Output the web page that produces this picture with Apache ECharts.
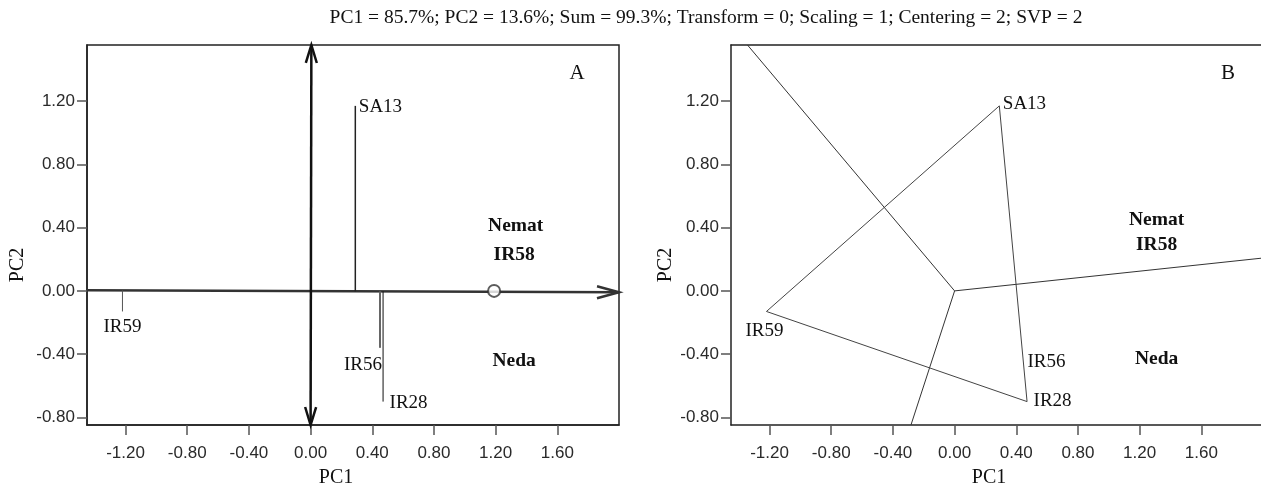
<!DOCTYPE html>
<html><head><meta charset="utf-8">
<script src="https://cdn.jsdelivr.net/npm/echarts@6/dist/echarts.min.js"></script>
<style>html,body{margin:0;padding:0;background:#fff}#c{width:1261px;height:489px}</style>
</head><body><div id="c"></div>
<script>
// ---- data ----
const xTicks = [-1.2, -0.8, -0.4, 0, 0.4, 0.8, 1.2, 1.6];
const yTicks = [-0.8, -0.4, 0, 0.4, 0.8, 1.2];
const genotypes = ['SA13', 'IR59', 'IR56', 'IR28'];
const genoPC1 = [0.29, -1.22, 0.45, 0.47];
const genoPC2 = [1.17, -0.13, -0.36, -0.70];
const envNames = ['Nemat', 'IR58', 'Neda'];
const envPC1A = [1.33, 1.32, 1.32];
const envPC2A = [0.41, 0.23, -0.44];
const envPC1B = [1.31, 1.31, 1.31];
const envPC2B = [0.45, 0.29, -0.43];
const aeaStart = [-1.45, 0.004];
const aeaEnd = [2.0, -0.009];
const ordStart = [0.0, -0.848];
const ordEnd = [0.005, 1.555];
const avgEnv = [1.19, 0.0];
const hullOrder = ['SA13', 'IR28', 'IR59', 'SA13'];
const rayEnds = [[-1.343, 1.555], [2.0, 0.208], [-0.283, -0.848]];
const titleText = 'PC1 = 85.7%; PC2 = 13.6%; Sum = 99.3%; Transform = 0; Scaling = 1; Centering = 2; SVP = 2';

// ---- styling ----
const SERIF = '"Liberation Serif", "Times New Roman", serif';
const SANS = '"Liberation Sans", Arial, sans-serif';
const TXT = '#111';
const X_MIN = -1.45, X_MAX = 2.0, X_MAX_B = 1.987, Y_MIN = -0.848, Y_MAX = 1.555;

function xAx(gi, max) {
  return {
    gridIndex: gi, type: 'value', min: X_MIN, max: max,
    axisLine: { onZero: false, lineStyle: { color: '#222', width: 1.5 } },
    axisTick: { show: true, length: 10, customValues: xTicks, lineStyle: { color: '#555', width: 1.5 } },
    axisLabel: { customValues: xTicks, formatter: v => v.toFixed(2), margin: 20, fontFamily: SANS, fontSize: 17, color: '#2a2a2a' },
    splitLine: { show: false }
  };
}
function yAx(gi) {
  return {
    gridIndex: gi, type: 'value', min: Y_MIN, max: Y_MAX,
    axisLine: { onZero: false, lineStyle: { color: '#222', width: 1.5 } },
    axisTick: { show: true, length: 10, customValues: yTicks, lineStyle: { color: '#555', width: 1.5 } },
    axisLabel: { customValues: yTicks, formatter: v => v.toFixed(2), margin: 12, fontFamily: SANS, fontSize: 17, color: '#2a2a2a' },
    splitLine: { show: false }
  };
}
// frame-only axis along the top of panel B (the panel runs past the right edge)
const topFrameB = {
  gridIndex: 1, type: 'value', position: 'top', min: X_MIN, max: X_MAX_B,
  axisLine: { onZero: false, lineStyle: { color: '#222', width: 1.5 } },
  axisTick: { show: false }, axisLabel: { show: false }, splitLine: { show: false }
};

// segments series: data items [x0,y0,x1,y1]; styles per item
function segSeries(gi, segs, styles, heads, clip) {
  return {
    type: 'custom', xAxisIndex: gi, yAxisIndex: gi, clip: clip, silent: true, z: 3,
    data: segs, encode: { x: [0, 2], y: [1, 3] },
    renderItem: function (params, api) {
      const st = styles[params.dataIndex] || styles[0];
      const a = api.coord([api.value(0), api.value(1)]);
      const b = api.coord([api.value(2), api.value(3)]);
      const children = [{ type: 'line', shape: { x1: a[0], y1: a[1], x2: b[0], y2: b[1] }, style: { stroke: st.color, lineWidth: st.width } }];
      function head(tip, from) {
        const dx = tip[0] - from[0], dy = tip[1] - from[1];
        const L = Math.hypot(dx, dy) || 1;
        const ux = dx / L, uy = dy / L, nx = -uy, ny = ux;
        const bx = tip[0] - ux * heads.len, by = tip[1] - uy * heads.len;
        children.push({ type: 'polyline', shape: { points: [[bx + nx * heads.half, by + ny * heads.half], tip, [bx - nx * heads.half, by - ny * heads.half]] }, style: { stroke: st.color, lineWidth: st.width, fill: null } });
      }
      if (heads && (heads.mode === 'end' || heads.mode === 'both')) head(b, a);
      if (heads && heads.mode === 'both') head(a, b);
      return { type: 'group', children: children };
    }
  };
}

function aeaY(x) {
  const t = (x - aeaStart[0]) / (aeaEnd[0] - aeaStart[0]);
  return aeaStart[1] + t * (aeaEnd[1] - aeaStart[1]);
}

const labelA = {
  SA13: { position: 'right', distance: 3, offset: [0, 1] },
  IR59: { position: 'bottom', distance: 6, offset: [0, 0] },
  IR56: { position: 'bottom', distance: 7, offset: [-17, 0] },
  IR28: { position: 'right', distance: 6, offset: [0, 1] }
};
const labelB = {
  SA13: { position: 'right', distance: 3, offset: [0, -2] },
  IR59: { position: 'bottom', distance: 10, offset: [-2, 0] },
  IR56: { position: 'right', distance: 3, offset: [0, 14] },
  IR28: { position: 'right', distance: 6, offset: [0, -1] }
};

function genoLabels(gi, cfg) {
  return {
    type: 'scatter', xAxisIndex: gi, yAxisIndex: gi, symbolSize: 1, silent: true, z: 5,
    itemStyle: { color: 'rgba(255,255,255,0)' },
    data: genotypes.map((g, i) => ({
      name: g, value: [genoPC1[i], genoPC2[i]],
      label: Object.assign({ show: true, formatter: g, fontFamily: SERIF, fontSize: 19, color: TXT, opacity: 1 }, cfg[g])
    }))
  };
}
function envLabels(gi, xs, ys) {
  return {
    type: 'scatter', xAxisIndex: gi, yAxisIndex: gi, symbolSize: 1, silent: true, z: 5,
    itemStyle: { color: 'rgba(255,255,255,0)' },
    data: envNames.map((n, i) => ({ name: n, value: [xs[i], ys[i]] })),
    label: { show: true, position: 'inside', formatter: p => p.name, fontFamily: SERIF, fontWeight: 'bold', fontSize: 19.5, color: TXT, opacity: 1 }
  };
}

const idx = name => genotypes.indexOf(name);

const series = [
  // Panel A: average environment axis (arrow) and ordinate (double arrow)
  segSeries(0, [[aeaStart[0], aeaStart[1], aeaEnd[0], aeaEnd[1]]], [{ color: '#333', width: 2.5 }], { mode: 'end', len: 22, half: 6 }, false),
  segSeries(0, [[ordStart[0], ordStart[1], ordEnd[0], ordEnd[1]]], [{ color: '#111', width: 2.5 }], { mode: 'both', len: 18, half: 5.5 }, false),
  // projections of genotypes onto the AEA
  segSeries(0, genotypes.map((g, i) => [genoPC1[i], aeaY(genoPC1[i]), genoPC1[i], genoPC2[i]]),
    [{ color: '#222', width: 1.5 }, { color: '#555', width: 1 }, { color: '#666', width: 2 }, { color: '#111', width: 1 }], null, true),
  { type: 'scatter', xAxisIndex: 0, yAxisIndex: 0, symbol: 'emptyCircle', symbolSize: 12, silent: true, z: 4,
    itemStyle: { color: '#333', borderWidth: 1 }, data: [avgEnv] },
  genoLabels(0, labelA),
  envLabels(0, envPC1A, envPC2A),
  // Panel B: polygon (which-won-where) and sector rays
  { type: 'line', xAxisIndex: 1, yAxisIndex: 1, symbol: 'none', silent: true, z: 3,
    lineStyle: { color: '#444', width: 1 },
    data: hullOrder.map(g => [genoPC1[idx(g)], genoPC2[idx(g)]]) },
  segSeries(1, rayEnds.map(e => [0, 0, e[0], e[1]]), [{ color: '#333', width: 1 }], null, true),
  genoLabels(1, labelB),
  envLabels(1, envPC1B, envPC2B)
];

const chart = echarts.init(document.getElementById('c'), null, { renderer: 'canvas' });
chart.setOption({
  animation: false,
  backgroundColor: '#fff',
  grid: [
    { left: 87, top: 45, width: 532, height: 380, show: true, borderColor: '#222', borderWidth: 1.5, backgroundColor: 'transparent' },
    { left: 731, top: 45, width: 530, height: 380, show: false }
  ],
  xAxis: [xAx(0, X_MAX), xAx(1, X_MAX_B), topFrameB],
  yAxis: [yAx(0), yAx(1)],
  series: series,
  graphic: [
    { type: 'text', x: 706, y: 18, style: { text: titleText, font: '19.5px ' + SERIF, fill: TXT, align: 'center', verticalAlign: 'middle' } },
    { type: 'text', x: 577, y: 73, style: { text: 'A', font: '21px ' + SERIF, fill: TXT, align: 'center', verticalAlign: 'middle' } },
    { type: 'text', x: 1228, y: 73, style: { text: 'B', font: '21px ' + SERIF, fill: TXT, align: 'center', verticalAlign: 'middle' } },
    { type: 'text', x: 336, y: 478, style: { text: 'PC1', font: '20px ' + SERIF, fill: TXT, align: 'center', verticalAlign: 'middle' } },
    { type: 'text', x: 989, y: 478, style: { text: 'PC1', font: '20px ' + SERIF, fill: TXT, align: 'center', verticalAlign: 'middle' } },
    { type: 'text', x: 18, y: 265, rotation: Math.PI / 2, style: { text: 'PC2', font: '20px ' + SERIF, fill: TXT, align: 'center', verticalAlign: 'middle' } },
    { type: 'text', x: 666, y: 265, rotation: Math.PI / 2, style: { text: 'PC2', font: '20px ' + SERIF, fill: TXT, align: 'center', verticalAlign: 'middle' } }
  ]
});
</script>
</body></html>
